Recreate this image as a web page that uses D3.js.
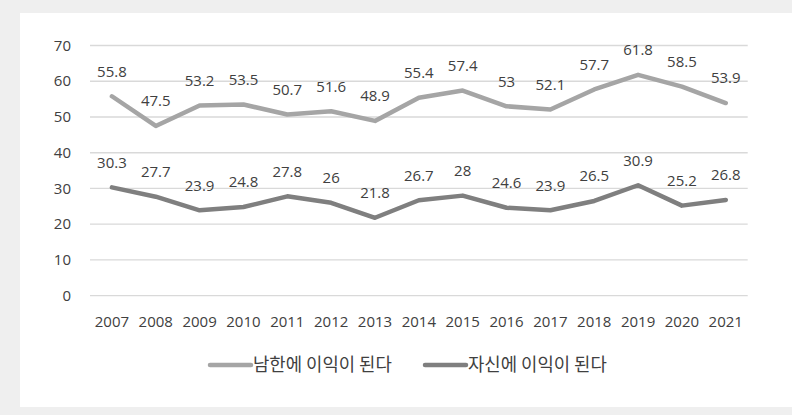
<!DOCTYPE html>
<html>
<head>
<meta charset="utf-8">
<script src="https://cdn.jsdelivr.net/npm/d3@7"></script>
<style>
  html, body { margin: 0; padding: 0; background: #efefef; }
  svg { display: block; }
  text { font-family: "Open Sans", "Noto Sans CJK KR", sans-serif; fill: #404040; }
</style>
</head>
<body>
<svg id="chart" width="792" height="415"></svg>
<script>
var years = ['2007', '2008', '2009', '2010', '2011', '2012', '2013', '2014', '2015', '2016', '2017', '2018', '2019', '2020', '2021'];
var southValues = [55.8, 47.5, 53.2, 53.5, 50.7, 51.6, 48.9, 55.4, 57.4, 53, 52.1, 57.7, 61.8, 58.5, 53.9];
var selfValues = [30.3, 27.7, 23.9, 24.8, 27.8, 26, 21.8, 26.7, 28, 24.6, 23.9, 26.5, 30.9, 25.2, 26.8];
var seriesNames = ['남한에 이익이 된다', '자신에 이익이 된다'];
var yTicks = [0, 10, 20, 30, 40, 50, 60, 70];

var SERIES_COLORS = ['#a5a5a5', '#7f7f7f'];
var LINE_WIDTH = 4.5;
var LABEL_OFFSET = 25;
var FONT_SIZE = '15px';

var svg = d3.select('#chart');

// white chart panel over the gray frame
svg.append('rect').attr('x', 20).attr('y', 13).attr('width', 772).attr('height', 394).attr('fill', '#fff');

var xScale = d3.scaleBand().domain(years).range([90, 747.7]);
var yScale = d3.scaleLinear().domain([0, 70]).range([295.7, 45.5]);
var xPos = function (d, i) { return xScale(years[i]) + xScale.bandwidth() / 2; };

// gridlines
svg.append('g').selectAll('line').data(yTicks).enter().append('line').
    attr('x1', 90).attr('x2', 747.7).
    attr('y1', function (d) { return yScale(d); }).
    attr('y2', function (d) { return yScale(d); }).
    attr('stroke', '#d9d9d9').attr('stroke-width', 1.3);

// y tick labels
svg.append('g').selectAll('text').data(yTicks).enter().append('text').
    attr('x', 71).attr('y', function (d) { return yScale(d); }).
    attr('dy', '0.35em').attr('text-anchor', 'end').
    style('font-size', FONT_SIZE).
    text(function (d) { return d; });

// x tick labels
svg.append('g').selectAll('text').data(years).enter().append('text').
    attr('x', function (d) { return xScale(d) + xScale.bandwidth() / 2; }).
    attr('y', 322).attr('dy', '0.35em').attr('text-anchor', 'middle').
    style('font-size', FONT_SIZE).
    text(function (d) { return d; });

var line = d3.line().x(xPos).y(function (d) { return yScale(d); });

[southValues, selfValues].forEach(function (values, s) {
    svg.append('path').datum(values).
        attr('d', line).
        attr('fill', 'none').
        attr('stroke', SERIES_COLORS[s]).
        attr('stroke-width', LINE_WIDTH).
        attr('stroke-linejoin', 'round').
        attr('stroke-linecap', 'round');
    svg.append('g').selectAll('text').data(values).enter().append('text').
        attr('x', xPos).
        attr('y', function (d) { return yScale(d) - LABEL_OFFSET; }).
        attr('dy', '0.35em').attr('text-anchor', 'middle').
        style('font-size', FONT_SIZE).
        text(function (d) { return d; });
});

// legend
var legendX = [210, 425];
seriesNames.forEach(function (name, s) {
    var g = svg.append('g').attr('transform', 'translate(' + legendX[s] + ',365)');
    g.append('line').attr('x1', 0).attr('x2', 41).attr('y1', 0).attr('y2', 0).
        attr('stroke', SERIES_COLORS[s]).attr('stroke-width', LINE_WIDTH).attr('stroke-linecap', 'round');
    g.append('text').attr('x', 43).attr('y', 0).attr('dy', '0.35em').
        style('font-family', '"Noto Sans CJK KR", sans-serif').
        style('font-size', '17.8px').text(name);
});
</script>
</body>
</html>
